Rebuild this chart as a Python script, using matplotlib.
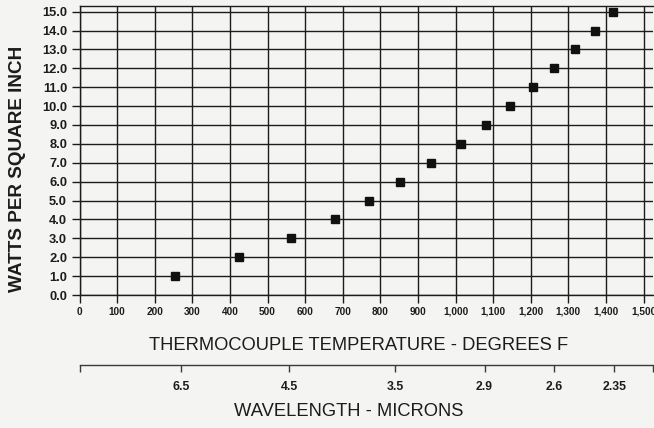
import numpy as np
import matplotlib
matplotlib.use('Agg')
import matplotlib.pyplot as plt

# values
temp_f = [255, 423, 563, 680, 769, 853, 934, 1014, 1081, 1144, 1206, 1261, 1317, 1372, 1418]
watts = [1.0, 2.0, 3.0, 4.0, 5.0, 6.0, 7.0, 8.0, 9.0, 10.0, 11.0, 12.0, 13.0, 14.0, 15.0]

temp_ticks = list(range(0, 1501, 100))
temp_labels = ['{:,}'.format(t) for t in temp_ticks]
watt_ticks = list(range(0, 16))
watt_labels = ['{:.1f}'.format(w) for w in watt_ticks]

# wavelength scale: position of each label on the temperature axis
wave_pos = [270, 558, 839, 1077, 1263, 1422]
wave_labels = ['6.5', '4.5', '3.5', '2.9', '2.6', '2.35']
wave_end = 1525

plt.rcParams['font.family'] = ['Liberation Sans', 'DejaVu Sans']

W, H = 654, 428
bg = '#f4f4f2'
ink = '#1c1c1c'
fig = plt.figure(figsize=(W / 100, H / 100), dpi=100, facecolor=bg)

x0, x_end = 79.5, 653.0   # pixel x of 0 F and of wave_end
y0, ytop = 295.0, 5.6     # pixel y of 0.0 and of top border
ax = fig.add_axes([x0 / W, (H - y0) / H, (x_end - x0) / W, (y0 - ytop) / H])
ax.set_facecolor(bg)
ax.set_xlim(0, wave_end)
ax.set_ylim(0, 15.32)

ax.set_xticks(temp_ticks)
ax.set_xticklabels(temp_labels, fontsize=7.2, fontweight='bold', color=ink)
ax.set_yticks(watt_ticks)
ax.set_yticklabels(watt_labels, fontsize=9.3, fontweight='bold', color=ink)
ax.tick_params(axis='both', direction='out', length=5.8, width=1.0, color=ink)
ax.tick_params(axis='x', pad=2.5)
ax.tick_params(axis='y', pad=3.2)
ax.grid(True, color=ink, linewidth=1.0)
ax.set_axisbelow(True)
for s in ['left', 'bottom', 'top']:
    ax.spines[s].set_color(ink)
    ax.spines[s].set_linewidth(1.0)
ax.spines['right'].set_visible(False)

ax.plot(temp_f, watts, linestyle='none', marker='s', markersize=5.4,
        color='#111111', clip_on=False, zorder=3)

# secondary wavelength scale below
y_wave = 365.0
ax2 = fig.add_axes([x0 / W, (H - y_wave) / H, (x_end - x0) / W, 0.001])
ax2.patch.set_visible(False)
ax2.set_xlim(0, wave_end)
ax2.set_yticks([])
for s in ['left', 'right', 'top']:
    ax2.spines[s].set_visible(False)
ax2.spines['bottom'].set_color('#3a3a3a')
ax2.spines['bottom'].set_linewidth(1.0)
ax2.set_xticks([0] + wave_pos + [wave_end])
ax2.set_xticklabels([''] + wave_labels + [''], fontsize=8.8, fontweight='bold', color=ink)
ax2.tick_params(axis='x', direction='out', length=4.8, width=1.0, color='#3a3a3a', pad=7)

fig.text(358.5 / W, 1 - 346 / H, 'THERMOCOUPLE TEMPERATURE - DEGREES F',
         ha='center', va='center', fontsize=13.2, color=ink)
fig.text(349 / W, 1 - 412 / H, 'WAVELENGTH - MICRONS',
         ha='center', va='center', fontsize=13.2, color=ink)
fig.text(18 / W, 1 - 169 / H, 'WATTS PER SQUARE INCH', rotation=90,
         ha='center', va='center', fontsize=13.6, fontweight='bold', color=ink)

fig.savefig('out.png', dpi=100, facecolor=bg)
